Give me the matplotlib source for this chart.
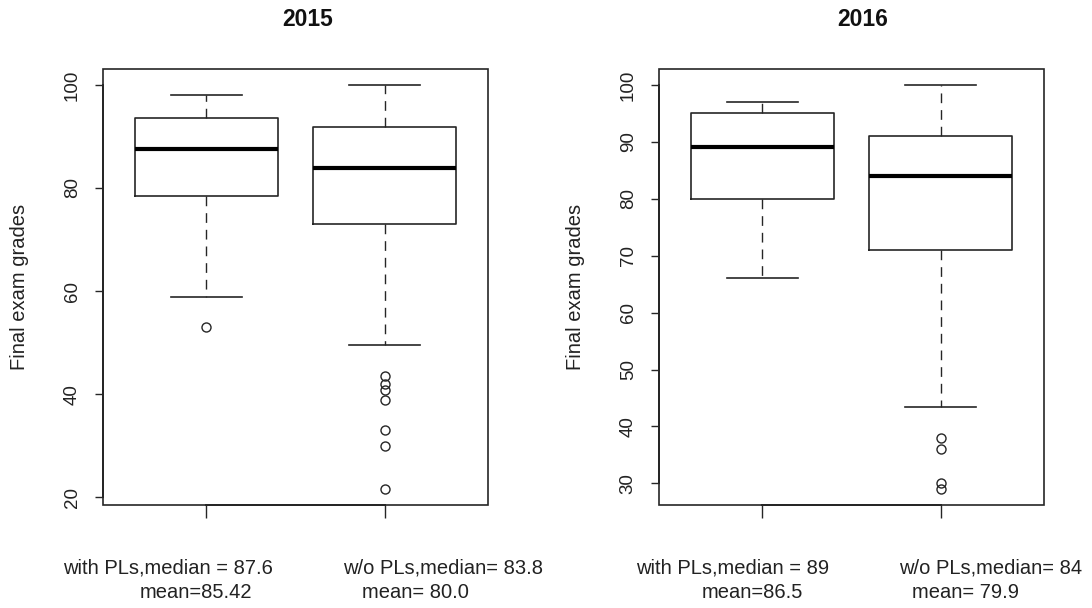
import matplotlib
matplotlib.use("Agg")
import matplotlib.pyplot as plt
from matplotlib.patches import Rectangle

plt.rcParams['font.family'] = ['Liberation Sans', 'DejaVu Sans']

# ---------------- data ----------------
years = ["2015", "2016"]
groups = ["with PLs", "w/o PLs"]

whislo_2015 = [58.8, 49.5]
q1_2015 = [78.4, 73.1]
med_2015 = [87.6, 83.8]
q3_2015 = [93.5, 91.9]
whishi_2015 = [98.0, 100.0]
fliers_2015 = [[53.1], [43.6, 42.0, 40.8, 38.8, 33.0, 30.0, 21.6]]

whislo_2016 = [66.0, 43.5]
q1_2016 = [80.0, 71.0]
med_2016 = [89.0, 84.0]
q3_2016 = [95.0, 91.0]
whishi_2016 = [97.0, 100.0]
fliers_2016 = [[], [38.0, 36.0, 30.0, 29.0]]

yticks_2015 = [20, 40, 60, 80, 100]
yticks_2016 = [30, 40, 50, 60, 70, 80, 90, 100]

label_line1_2015 = ["with PLs,median = 87.6", "w/o PLs,median= 83.8"]
label_line2_2015 = ["mean=85.42", "mean= 80.0"]
label_line1_2016 = ["with PLs,median = 89", "w/o PLs,median= 84"]
label_line2_2016 = ["mean=86.5", "mean= 79.9"]

ylabel_text = "Final exam grades"

# ---------------- layout / style ----------------
W, H = 1092, 608
fig = plt.figure(figsize=(W / 100, H / 100), dpi=100)
fig.patch.set_facecolor("white")

LINE = "#262626"

panels = [
    dict(rect=[103 / W, 0.169, 385 / W, 0.718], year=years[0],
         stats=(whislo_2015, q1_2015, med_2015, q3_2015, whishi_2015, fliers_2015),
         yticks=yticks_2015, l1=label_line1_2015, l2=label_line2_2015,
         l1x=[62.7, 342.7], l2x=[140.0, 361.7], titlex=307.5, ylabx=-0.2156),
    dict(rect=[659 / W, 0.169, 385 / W, 0.718], year=years[1],
         stats=(whislo_2016, q1_2016, med_2016, q3_2016, whishi_2016, fliers_2016),
         yticks=yticks_2016, l1=label_line1_2016, l2=label_line2_2016,
         l1x=[636.0, 899.3], l2x=[701.7, 911.7], titlex=863.0, ylabx=-0.218),
]

for p in panels:
    ax = fig.add_axes(p["rect"])
    wlo, q1, med, q3, whi, fl = p["stats"]
    bstats = []
    for i, g in enumerate(groups):
        bstats.append(dict(label=g, whislo=wlo[i], q1=q1[i], med=med[i],
                           q3=q3[i], whishi=whi[i], fliers=fl[i]))
    ax.bxp(bstats, positions=[1, 2], widths=0.8, showfliers=True,
           boxprops=dict(color=LINE, linewidth=1.2),
           medianprops=dict(color="black", linewidth=3.0, solid_capstyle="butt"),
           whiskerprops=dict(color=LINE, linewidth=1.0, linestyle=(0, (7, 5))),
           capprops=dict(color=LINE, linewidth=1.2),
           capwidths=0.4,
           flierprops=dict(marker="o", markersize=6.5, markerfacecolor="none",
                           markeredgecolor=LINE, markeredgewidth=1.0, linestyle="none"))

    # R-like axis ranges (4% extension)
    allv = list(wlo) + list(whi) + [v for f in fl for v in f]
    lo, hi = min(allv), max(allv)
    pad = (hi - lo) * 0.04
    ax.set_ylim(lo - pad, hi + pad)
    ax.set_xlim(0.42, 2.58)

    # frame box + R-style axis lines
    ax.add_patch(Rectangle((0, 0), 1, 1, transform=ax.transAxes, fill=False,
                           edgecolor=LINE, linewidth=1.2, clip_on=False, zorder=5))
    for s in ["top", "right"]:
        ax.spines[s].set_visible(False)
    ax.spines["left"].set_bounds(p["yticks"][0], p["yticks"][-1])
    ax.spines["bottom"].set_bounds(1, 2)
    for s in ["left", "bottom"]:
        ax.spines[s].set_color(LINE)
        ax.spines[s].set_linewidth(1.4)
        ax.spines[s].set_zorder(6)

    ax.set_yticks(p["yticks"])
    ax.set_yticklabels([str(t) for t in p["yticks"]], rotation=90, va="center",
                       fontsize=13.5, color="#222222")
    ax.tick_params(axis="y", length=6, width=1.0, color=LINE, pad=10)
    ax.set_xticks([1, 2])
    ax.set_xticklabels(["", ""])
    ax.tick_params(axis="x", length=9, width=1.0, color=LINE)

    ax.set_ylabel(ylabel_text, fontsize=14.5, color="#222222")
    ax.yaxis.label.set_va("center")
    ax.yaxis.set_label_coords(p["ylabx"], 0.5)

    # title
    fig.text(p["titlex"] / W, 1 - 25.7 / H, p["year"], ha="center", va="baseline",
             fontsize=16.5, fontweight="bold", color="#111111")

    # two-line group labels under the boxes
    for i in range(2):
        fig.text(p["l1x"][i] / W, 1 - 573 / H, p["l1"][i], ha="left", va="baseline",
                 fontsize=14.5, color="#222222")
        fig.text(p["l2x"][i] / W, 1 - 598 / H, p["l2"][i], ha="left", va="baseline",
                 fontsize=14.5, color="#222222")

fig.savefig("out.png", dpi=100, facecolor="white")
